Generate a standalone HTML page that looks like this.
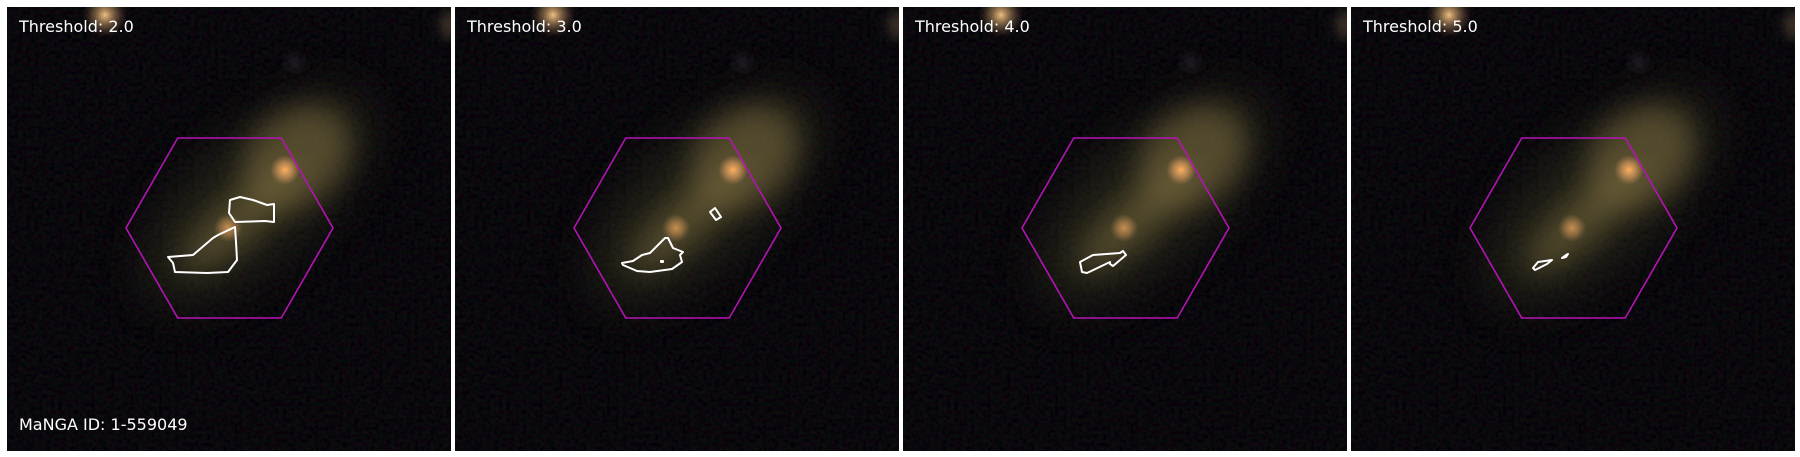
<!DOCTYPE html>
<html><head><meta charset="utf-8">
<style>
html,body{margin:0;padding:0;background:#fff;}
body{width:1800px;height:457px;overflow:hidden;position:relative;}
svg{position:absolute;left:0;top:0;}
text{font-family:"DejaVu Sans","Liberation Sans",sans-serif;}
</style></head>
<body>
<svg id="fig" width="1800" height="457" viewBox="0 0 1800 457">
<defs>
<filter id="blur6" x="-50%" y="-50%" width="200%" height="200%"><feGaussianBlur stdDeviation="6"/></filter>
<filter id="blur14" x="-50%" y="-50%" width="200%" height="200%"><feGaussianBlur stdDeviation="14"/></filter>
<filter id="blur25" x="-50%" y="-50%" width="200%" height="200%"><feGaussianBlur stdDeviation="25"/></filter>
<filter id="noise" x="0" y="0" width="100%" height="100%">
<feTurbulence type="fractalNoise" baseFrequency="0.25" numOctaves="2" seed="3" result="t"/>
<feColorMatrix in="t" type="matrix" values="0.35 0 0 0 -0.12  0 0.3 0 0 -0.11  0.2 0 0.2 0 -0.1  0 0 0 0 1"/>
</filter>
<radialGradient id="core" cx="50%" cy="50%" r="50%">
<stop offset="0" stop-color="#ffb060" stop-opacity="1"/>
<stop offset="0.5" stop-color="#e8a060" stop-opacity="0.6"/>
<stop offset="1" stop-color="#c09060" stop-opacity="0"/>
</radialGradient>
<radialGradient id="star" cx="50%" cy="50%" r="50%">
<stop offset="0" stop-color="#f0c080" stop-opacity="1"/>
<stop offset="1" stop-color="#806040" stop-opacity="0"/>
</radialGradient>
</defs>
</svg>
<script>
const thresholds = [2.0, 3.0, 4.0, 5.0];
const panelX = [7, 455, 903, 1351];
const contours2 = [
 [[223,193],[233,190],[246,193],[260,198],[267,197],[267,215],[258,214],[228,215],[222,206]],
 [[228,220],[211,228],[206,231],[186,248],[161,250],[166,256],[168,265],[200,266],[221,265],[230,253],[229,235]]
];
const contours3 = [
 [[167,256],[178,254],[187,248],[195,246],[210,231],[213,231],[218,241],[228,245],[225,248],[227,255],[217,262],[195,265],[182,264],[168,258]],
 [[255,205],[260,201],[266,210],[261,213]],
 [[206,254],[208,254],[208,255],[206,255]]
];
const contours4 = [
 [[177,255],[190,248],[217,246],[220,244],[223,248],[210,259],[207,257],[207,255],[184,266],[179,265]]
];
const contours5 = [
 [[182,261],[187,255],[201,253],[196,257],[184,263]],
 [[211,251],[215,248],[217,247],[215,250]]
];
const contourSets = [contours2, contours3, contours4, contours5];
const panelW = 444, panelY = 7;
const NS = 'http://www.w3.org/2000/svg';
const fig = document.getElementById('fig');
function mk(tag, attrs, parent){const e=document.createElementNS(NS,tag);for(const k in attrs)e.setAttribute(k,attrs[k]);parent.appendChild(e);return e;}
thresholds.forEach((th,i)=>{
  const g = mk('g',{transform:`translate(${panelX[i]},${panelY})`},fig);
  
  
  const cp = mk('clipPath',{id:'cp'+i},g);
  mk('rect',{x:0,y:0,width:panelW,height:panelW},cp);
  const img = mk('g',{'clip-path':`url(#cp${i})`},g);
  
  
  mk('rect',{x:0,y:0,width:panelW,height:panelW,fill:'#030202'},img);
  mk('rect',{x:0,y:0,width:panelW,height:panelW,filter:'url(#noise)',opacity:0.12},img);
  // diffuse halo
  mk('ellipse',{cx:250,cy:190,rx:140,ry:55,fill:'#3a3a22',opacity:0.6,filter:'url(#blur25)',transform:'rotate(-42 250 190)'},img);
  mk('ellipse',{cx:290,cy:150,rx:58,ry:45,fill:'#7a6a40',opacity:0.55,filter:'url(#blur14)',transform:'rotate(-40 290 150)'},img);
  mk('ellipse',{cx:235,cy:210,rx:75,ry:20,fill:'#7a6a3c',opacity:0.55,filter:'url(#blur14)',transform:'rotate(-42 235 210)'},img);
  mk('circle',{cx:278,cy:163,r:15,fill:'url(#core)'},img);
  mk('circle',{cx:221,cy:221,r:14,fill:'url(#core)',opacity:0.7},img);
  mk('circle',{cx:98,cy:8,r:22,fill:'url(#star)'},img);
  mk('circle',{cx:287,cy:55,r:6,fill:'#6a5a6a',opacity:0.5,filter:'url(#blur6)'},img);
  mk('circle',{cx:446,cy:18,r:14,fill:'#6a5a40',opacity:0.5,filter:'url(#blur6)'},img);
  // hexagon
  const hx=222.5, hy=221, hr=103.5;
  const hpts=[[hx-hr,hy],[hx-hr/2,hy-90],[hx+hr/2,hy-90],[hx+hr,hy],[hx+hr/2,hy+90],[hx-hr/2,hy+90]].map(p=>p.join(',')).join(' ');
  const hex = mk('polygon',{points:hpts,fill:'none',stroke:'#b414b4','stroke-width':1.6},g);
  
  
  contourSets[i].forEach((c,j)=>{
    const p = mk('polygon',{points:c.map(q=>q.join(',')).join(' '),fill:'none',stroke:'#fff','stroke-width':2,'stroke-linejoin':'round'},g);
    
    
  });
  const t = mk('text',{x:12,y:25,fill:'#fff','font-size':16},g);
  t.textContent = 'Threshold: '+th.toFixed(1);
  
  
  if(i===0){
    const m = mk('text',{x:12,y:423,fill:'#fff','font-size':16},g);
    m.textContent = 'MaNGA ID: 1-559049';
    
    
  }
});
</script>
</body></html>
